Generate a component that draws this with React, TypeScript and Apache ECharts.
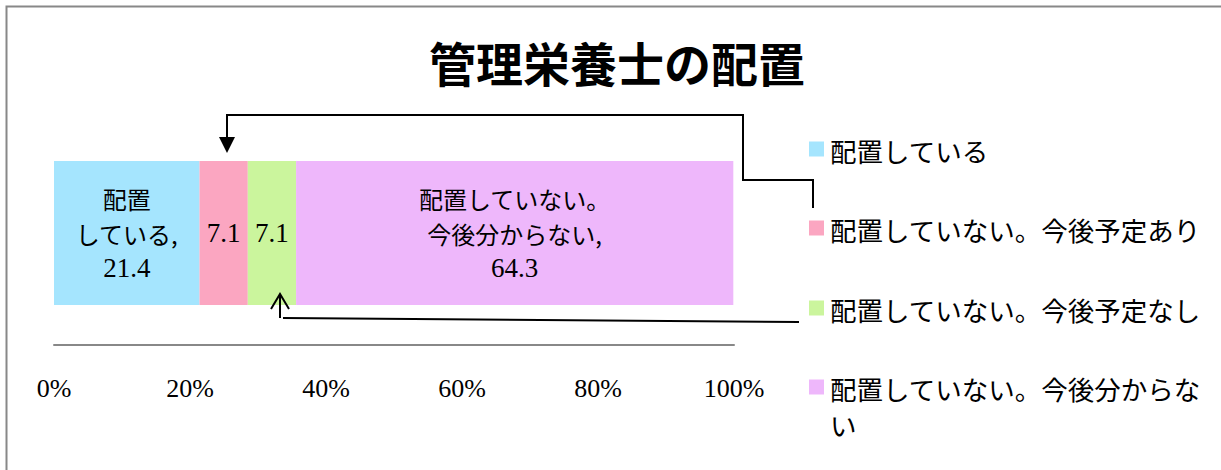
import React, { useEffect, useRef } from "react";
import * as echarts from "echarts";

const titleText = "管理栄養士の配置";
const categories = ["管理栄養士の配置"];
const seriesNames = [
  "配置している",
  "配置していない。今後予定あり",
  "配置していない。今後予定なし",
  "配置していない。今後分からない",
];
const seriesValues = [21.4, 7.1, 7.1, 64.3];
const seriesColors = ["#A5E5FE", "#FBA6C1", "#CBF59D", "#EEB7FB"];
const labelNameLines: string[][] = [
  ["配置", "している,"],
  [],
  [],
  ["配置していない。", "今後分からない,"],
];
const xTicks = [0, 20, 40, 60, 80, 100];

const JP = "'Noto Sans CJK JP', 'Noto Sans', sans-serif";
const SERIF = "'Liberation Serif', 'DejaVu Serif', serif";

export default function App() {
  const ref = useRef<HTMLDivElement>(null);
  useEffect(() => {
    if (!ref.current) return;
    const chart = echarts.init(ref.current, undefined, { renderer: "svg" });

    const series = seriesNames.map((name, i) => ({
      name,
      type: "bar",
      stack: "total",
      barWidth: 144,
      data: [seriesValues[i]],
      itemStyle: { color: seriesColors[i] },
      label: {
        show: true,
        position: "inside",
        color: "#000",
        formatter: (p: any) => {
          const lines = labelNameLines[i].map((t) => `{j|${t}}`);
          lines.push(`{n|${p.value}}`);
          return lines.join("\n");
        },
        rich: {
          j: { fontFamily: JP, fontSize: 24, lineHeight: 35, color: "#000" },
          n: { fontFamily: SERIF, fontSize: 27, lineHeight: 35, color: "#000" },
        },
      },
    }));

    const legendCenter = [149, 228, 308, 387];
    const legendGraphics: any[] = [];
    seriesNames.forEach((name, i) => {
      legendGraphics.push({
        type: "rect",
        z: 100,
        shape: { x: 809, y: legendCenter[i] - 7.5, width: 15, height: 15 },
        style: { fill: seriesColors[i] },
      });
      const lines = name.length > 14 ? [name.slice(0, 14), name.slice(14)] : [name];
      lines.forEach((line, k) => {
        legendGraphics.push({
          type: "text",
          z: 100,
          x: 830,
          y: legendCenter[i] + 1 + k * 36,
          style: {
            text: line,
            fontFamily: JP,
            fontSize: 26.5,
            fill: "#000",
            align: "left",
            verticalAlign: "middle",
          },
        });
      });
    });

    chart.setOption({
      animation: false,
      backgroundColor: "#fff",
      title: {
        text: titleText,
        left: 424,
        top: 33,
        textStyle: { fontFamily: JP, fontSize: 47, fontWeight: "bold", color: "#000" },
      },
      grid: { left: 54, right: 487, top: 121, bottom: 125, outerBoundsMode: "none" },
      xAxis: {
        type: "value",
        min: xTicks[0],
        max: xTicks[xTicks.length - 1],
        interval: 20,
        axisLine: { show: true, lineStyle: { color: "#888", width: 2 } },
        axisTick: { show: false },
        splitLine: { show: false },
        axisLabel: {
          formatter: "{value}%",
          fontFamily: SERIF,
          fontSize: 26,
          color: "#000",
          margin: 30,
        },
      },
      yAxis: {
        type: "category",
        data: categories,
        show: false,
      },
      series,
      graphic: [
        {
          type: "rect",
          z: 100,
          shape: { x: 6.5, y: 6.5, width: 1400, height: 600 },
          style: { fill: "none", stroke: "#888", lineWidth: 2 },
          silent: true,
        },
        {
          type: "polyline",
          z: 100,
          shape: { points: [[813, 208], [813, 180], [743, 180], [743, 115], [227, 115], [227, 140]] },
          style: { fill: "none", stroke: "#000", lineWidth: 2 },
        },
        {
          type: "polygon",
          z: 100,
          shape: { points: [[219, 137], [235, 137], [227, 153]] },
          style: { fill: "#000" },
        },
        {
          type: "line",
          z: 100,
          shape: { x1: 799, y1: 322, x2: 283, y2: 318 },
          style: { stroke: "#000", lineWidth: 2 },
        },
        {
          type: "line",
          z: 100,
          shape: { x1: 280, y1: 318, x2: 280, y2: 294 },
          style: { stroke: "#000", lineWidth: 2 },
        },
        {
          type: "polyline",
          z: 100,
          shape: { points: [[271, 309], [280, 294], [289, 309]] },
          style: { fill: "none", stroke: "#000", lineWidth: 2 },
        },
        ...legendGraphics,
      ],
    });
    return () => chart.dispose();
  }, []);

  return (
    <div
      ref={ref}
      style={{ position: "fixed", left: 0, top: 0, width: 1221, height: 470 }}
    />
  );
}
